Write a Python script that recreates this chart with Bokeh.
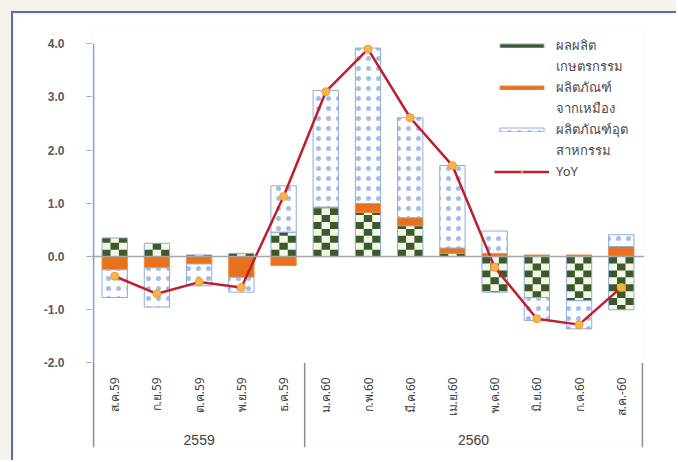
import math
from bokeh.plotting import figure
from bokeh.layouts import column
from bokeh.models import (FactorRange, Range1d, FixedTicker, PrintfTickFormatter, Span,
                          Legend, LegendItem)
from bokeh.embed import file_html
from bokeh.resources import INLINE

# ---------------- data ----------------
months = ["ส.ค.59", "ก.ย.59", "ต.ค.59", "พ.ย.59", "ธ.ค.59",
          "ม.ค.60", "ก.พ.60", "มี.ค.60", "เม.ย.60", "พ.ค.60", "มิ.ย.60", "ก.ค.60", "ส.ค.-60"]
years = ["2559", "2560"]
year_first = [0, 5]      # index of first month of each year group
year_last = [4, 12]      # index of last month of each year group

agri = [0.35, 0.25, 0.03, 0.06, 0.46, 0.93, 0.83, 0.58, 0.06, -0.67, -0.77, -0.83, -1.00]
mining = [-0.25, -0.21, -0.14, -0.39, -0.17, 0.00, 0.17, 0.15, 0.10, 0.06, 0.03, 0.03, 0.19]
industrial = [-0.52, -0.74, -0.41, -0.28, 0.87, 2.19, 2.92, 1.88, 1.55, 0.42, -0.43, -0.53, 0.22]
yoy = [-0.37, -0.70, -0.48, -0.58, 1.13, 3.10, 3.90, 2.61, 1.71, -0.20, -1.17, -1.28, -0.58]

# legend label lines (each label wraps over two lines in the reference)
series_label_lines = [["ผลผลิต", "เกษตรกรรม"], ["ผลิตภัณฑ์", "จากเหมือง"],
                      ["ผลิตภัณฑ์อุต", "สาหกรรม"], ["YoY"]]
y_ticks = [-2, -1, 0, 1, 2, 3, 4]

# ---------------- stacking (positives up, negatives down) ----------------
def stack(series_list):
    n = len(series_list[0])
    pos = [0.0] * n
    neg = [0.0] * n
    out = []
    for s in series_list:
        b, t = [], []
        for i, v in enumerate(s):
            if v >= 0:
                b.append(pos[i]); t.append(pos[i] + v); pos[i] += v
            else:
                t.append(neg[i]); b.append(neg[i] + v); neg[i] += v
        out.append((b, t))
    return out

(agri_b, agri_t), (min_b, min_t), (ind_b, ind_t) = stack([agri, mining, industrial])

BAR_W = 0.6
Y_MIN = -3.59
Y_MAX = 4.25
AXIS_TOP = 4.0

# checkerboard texture cells for the agriculture segments (derived from the data)
CELL_H = 0.13
COLS = 3
cl, cr, cb, ct = [], [], [], []
for i, m in enumerate(months):
    b, t = agri_b[i], agri_t[i]
    length = t - b
    if length <= 0:
        continue
    up = agri[i] >= 0
    start = b if up else t
    nrows = int(math.ceil(length / CELL_H - 1e-9))
    for r in range(nrows):
        r0 = r * CELL_H
        r1 = min((r + 1) * CELL_H, length)
        if up:
            y0, y1 = start + r0, start + r1
        else:
            y0, y1 = start - r1, start - r0
        for c in range(COLS):
            if (r + c) % 2 == 0:
                o0 = -BAR_W / 2 + c * BAR_W / COLS
                cl.append((m, o0)); cr.append((m, o0 + BAR_W / COLS))
                cb.append(y0); ct.append(y1)

p = figure(width=665, height=449, output_backend="svg", toolbar_location=None,
           x_range=FactorRange(factors=months, range_padding=0.05, range_padding_units="absolute"),
           y_range=Range1d(Y_MIN, Y_MAX),
           min_border_left=78, min_border_right=34, min_border_top=17, min_border_bottom=15)
p.styles = {"border-top": "2px solid #5C6CB3", "border-left": "2px solid #5C6CB3",
            "margin-top": "11px", "margin-left": "11px"}
p.outline_line_color = None
p.xgrid.visible = False
p.ygrid.visible = False
p.xaxis.visible = False

ax = p.yaxis[0]
ax.ticker = FixedTicker(ticks=y_ticks)
ax.formatter = PrintfTickFormatter(format="%.1f")
ax.axis_line_color = None
ax.major_tick_out = 5
ax.major_tick_in = 0
ax.major_tick_line_color = "#A6A6A6"
ax.minor_tick_line_color = None
ax.major_label_standoff = 22
ax.major_label_text_font = "Liberation Sans"
ax.major_label_text_font_style = "bold"
ax.major_label_text_font_size = "12px"
ax.major_label_text_color = "#595959"

r_agri_bg = p.vbar(x=months, bottom=agri_b, top=agri_t, width=BAR_W,
                   fill_color="#F4F6EC", line_color=None)
r_cells = p.quad(left=cl, right=cr, bottom=cb, top=ct, fill_color="#3B5A25", line_color=None)
r_agri = p.vbar(x=months, bottom=agri_b, top=agri_t, width=BAR_W,
                fill_alpha=0, line_color="#8EAADB", line_width=1)
r_min = p.vbar(x=months, bottom=min_b, top=min_t, width=BAR_W,
               fill_color="#E8711E", line_color="#EE8A45", line_width=1)
r_ind = p.vbar(x=months, bottom=ind_b, top=ind_t, width=BAR_W,
               fill_color="white", line_color="#8EAADB", line_width=1,
               hatch_pattern="dot", hatch_color="#A6BEE6", hatch_scale=10, hatch_weight=1.0)

p.add_layout(Span(location=0, dimension="width", line_color="#A6A6A6", line_width=1.5))

r_line = p.line(x=months, y=yoy, line_color="#BE1E2D", line_width=2.5)
r_pts = p.scatter(x=months, y=yoy, size=8, fill_color="#F7B547", line_color="#F29B38", line_width=1)

# axis line (blue) and category separators (gray)
left_edge = (months[0], -0.5)
p.segment(x0=[left_edge], y0=-2.0, x1=[left_edge], y1=AXIS_TOP, line_color="#7EA2D8", line_width=1.5)
sep_x = [left_edge] + [(months[i], 0.5) for i in year_last]
p.segment(x0=sep_x, y0=-2.0, x1=sep_x, y1=Y_MIN, line_color="#8C8C8C", line_width=1.5)

# category labels
p.text(x=months, y=-2.27, text=months, angle=math.pi / 2, text_align="right",
       text_baseline="middle", text_font_size="12px", text_color="#404040",
       text_font={"value": "Noto Sans"})
centers = []
for a, b in zip(year_first, year_last):
    c = (a + b) / 2
    centers.append((months[int(c)], c - int(c)))
p.text(x=centers, y=-3.44, text=years, text_align="center", text_baseline="middle",
       text_font_size="14px", text_color="#404040", text_font={"value": "Liberation Sans"})

# invisible renderer used for the second line of wrapped legend labels
r_blank = p.vbar(x=[], top=[], width=BAR_W, fill_alpha=0, line_alpha=0)

glyph_renderers = [[r_cells, r_agri], [r_min], [r_ind], [r_line, r_pts]]
items = []
for lines, rends in zip(series_label_lines, glyph_renderers):
    items.append(LegendItem(label=lines[0], renderers=rends))
    for extra in lines[1:]:
        items.append(LegendItem(label=extra, renderers=[r_blank]))

legend = Legend(items=items, location=(403, 266), glyph_width=55, glyph_height=5,
                label_height=20, label_standoff=7, padding=0, spacing=0,
                border_line_color=None, background_fill_alpha=0,
                label_text_font="Noto Sans", label_text_font_size="13px",
                label_text_color="#4A4A4A")
p.add_layout(legend)

page = column(p, styles={"background-color": "#F6F3EB"})

open("out.html", "w").write(file_html(page, INLINE))
